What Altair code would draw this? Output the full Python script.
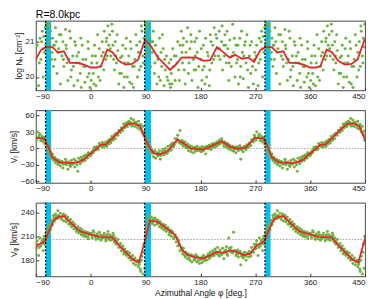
import altair as alt
import pandas as pd

# Azimuth of the plotted sources (deg), shared by the three panels (0..360)
phi = [0.8, 2.5, 4.1, 6.3, 8.7,
       10.2, 12.6, 14.0, 16.8, 18.9,
       20.5, 22.3, 24.8, 26.1, 28.4, 29.6,
       31.2, 33.0, 34.7, 36.5, 38.8,
       40.4, 42.1, 44.6, 46.2, 48.9,
       50.3, 52.7, 54.2, 56.0, 58.5,
       60.1, 62.4, 64.0, 66.3, 68.7,
       70.2, 72.5, 74.1, 76.8, 78.3,
       80.6, 82.2, 84.0, 85.7, 87.3, 88.6, 89.5,
       90.4, 91.3, 92.5, 93.8, 95.1, 96.6, 98.2, 99.5,
       101.0, 102.8, 104.5, 106.3, 108.7,
       110.4, 112.9, 114.2, 116.6, 118.8,
       120.3, 122.5, 124.1, 126.7, 128.4,
       130.9, 132.2, 134.6, 136.0, 138.5,
       140.1, 142.8, 144.3, 146.5, 148.7,
       150.6, 152.1, 154.8, 156.3, 158.9,
       160.2, 162.7, 164.4, 166.1, 168.6,
       170.8, 172.3, 174.6, 176.0, 178.5,
       180.7, 182.4, 184.9, 186.2, 188.6,
       190.3, 192.8, 194.5, 196.1, 198.7,
       200.4, 202.6, 204.0, 206.8, 208.3,
       210.9, 212.1, 214.7, 216.3, 218.5,
       220.2, 222.6, 224.8, 226.4, 228.1,
       230.5, 232.9, 234.3, 236.7, 238.2,
       240.8, 242.3, 244.6, 246.1, 248.9,
       250.2, 252.5, 254.8, 256.4, 258.7,
       260.3, 262.6, 264.1, 266.9, 268.4,
       270.7, 272.2, 274.5, 276.8, 278.3,
       280.6, 282.1, 284.0, 285.3, 286.7, 288.2, 289.5,
       290.8, 292.4, 294.0, 295.6, 297.3, 298.9,
       300.5, 302.2, 304.7, 306.1, 308.6,
       310.3, 312.8, 314.4, 316.0, 318.7,
       320.1, 322.6, 324.2, 326.9, 328.3,
       330.7, 332.5, 334.0, 336.4, 338.8,
       340.2, 342.9, 344.5, 346.1, 348.6,
       350.4, 352.0, 354.7, 356.2, 358.8,
       # second batch
       1.6, 5.2, 7.8, 11.4, 15.3, 17.9, 21.4, 25.5, 27.2,
       32.1, 35.6, 37.7, 41.3, 43.5, 47.6, 51.5, 55.1, 57.3,
       61.2, 65.2, 67.5, 71.3, 75.4, 79.6, 81.4, 83.1, 86.5,
       90.9, 92.0, 94.4, 97.3, 101.9, 105.4, 109.5,
       111.7, 115.3, 117.7, 121.4, 125.3, 129.6, 131.5, 133.4, 137.2,
       141.5, 145.4, 149.8, 151.3, 153.5, 157.6, 161.4, 165.2, 169.7,
       171.5, 173.4, 177.2, 181.5, 183.6, 187.4, 191.5, 195.3, 197.4,
       201.5, 205.3, 209.6, 211.4, 215.5, 219.4, 221.3, 223.7, 227.2,
       231.6, 235.5, 239.4, 241.5, 245.3, 247.5, 251.3, 253.6, 257.5,
       261.4, 265.5, 269.3, 271.4, 275.6, 279.5, 281.3, 283.0, 287.4,
       291.6, 293.2, 296.4, 299.6, 301.4, 303.5, 307.3,
       311.5, 315.2, 319.4, 321.3, 325.5, 327.6, 331.6, 335.2, 337.5,
       341.5, 343.7, 347.4, 351.2, 355.5, 357.4]

log_nh = [19.9, 20.6, 20.1, 20.9, 19.75,
          20.4, 20.0, 20.8, 20.3, 21.0,
          20.7, 21.3, 20.5, 21.1, 21.45, 20.9,
          21.2, 20.6, 21.5, 20.9, 20.2,
          21.0, 20.4, 20.75, 19.8, 20.55,
          20.1, 20.9, 19.7, 20.4, 21.1,
          20.0, 20.6, 19.85, 20.8, 20.3,
          19.7, 20.5, 21.2, 20.0, 20.7,
          21.0, 20.3, 21.3, 20.6, 21.1, 20.85, 21.5,
          21.3, 21.55, 20.9, 21.4, 20.6, 21.2, 20.3, 21.0,
          20.7, 21.3, 20.1, 20.9, 19.8,
          20.5, 21.1, 19.9, 20.3, 20.8,
          19.75, 20.2, 20.6, 19.9, 20.4,
          19.7, 20.1, 20.8, 20.3, 19.9,
          20.6, 21.0, 20.2, 20.9, 21.3,
          20.4, 21.1, 19.8, 20.7, 21.4,
          20.1, 20.8, 21.2, 19.9, 20.5,
          21.0, 20.2, 20.7, 19.7, 21.3,
          20.5, 19.9, 20.9, 20.3, 21.1,
          20.0, 20.6, 19.75, 21.2, 20.4,
          20.9, 21.4, 20.6, 21.1, 20.8,
          21.3, 20.5, 21.0, 20.2, 20.9,
          21.2, 20.4, 20.8, 19.9, 21.05,
          20.3, 21.5, 20.7, 20.0, 20.9,
          20.5, 19.8, 21.1, 20.3, 20.7,
          19.95, 20.9, 20.4, 21.2, 19.7,
          20.6, 20.1, 21.0, 19.8, 20.5,
          20.2, 20.9, 19.75, 21.1, 20.5,
          21.3, 20.0, 20.7, 21.4, 20.9, 21.55, 21.2,
          21.5, 20.8, 21.3, 20.5, 21.1, 20.3,
          20.9, 21.4, 20.1, 20.7, 21.2,
          19.8, 20.6, 21.0, 20.3, 21.35,
          20.8, 19.9, 20.5, 21.1, 20.2,
          20.6, 19.75, 21.0, 20.4, 19.9,
          20.7, 20.1, 19.7, 20.9, 20.3,
          19.85, 20.5, 20.0, 20.8, 19.7,
          # second batch
          20.4, 19.8, 20.6, 21.2, 19.9, 20.6, 20.2, 21.0, 20.6,
          20.8, 21.3, 20.5, 20.6, 21.2, 20.1, 20.6, 20.0, 20.8,
          20.4, 21.0, 19.8, 20.3, 20.9, 20.2, 20.7, 21.45, 20.4,
          21.1, 20.7, 21.5, 20.8, 21.0, 20.4, 20.6,
          20.0, 20.7, 21.2, 20.5, 20.0, 19.8, 20.5, 19.8, 20.6,
          20.4, 19.9, 20.7, 20.9, 20.2, 21.0, 20.4, 21.0, 20.2,
          20.6, 21.1, 20.3, 20.8, 20.2, 19.8, 20.7, 20.2, 21.0,
          20.5, 21.2, 20.6, 20.8, 21.45, 20.6, 20.9, 21.3, 20.4,
          20.6, 21.1, 20.4, 20.9, 20.0, 21.3, 20.6, 21.0, 20.2,
          20.9, 20.3, 20.7, 20.6, 20.4, 21.0, 20.8, 21.15, 21.5,
          21.0, 21.45, 20.7, 20.9, 20.5, 21.0, 20.8,
          21.2, 20.5, 20.9, 20.4, 21.3, 20.0, 20.3, 20.9, 20.6,
          20.4, 21.1, 20.5, 20.3, 21.0, 20.1]

v_r = [-12, -5, -8, 2, -3,
       3, -2, 9, 4, 11,
       2, 9, 12, 4, 14, 8,
       17, 10, 22, 15, 25,
       18, 28, 24, 33, 29,
       38, 33, 45, 38, 47,
       40, 50, 44, 55, 42,
       52, 40, 48, 38, 50,
       35, 44, 30, 40, 24, 32, 15,
       22, 8, 14, 2, 9, -6, 3, -8,
       -4, -15, -6, -18, -8,
       -14, -4, -20, -9, -2,
       -12, 0, -9, 4, -5,
       6, -3, 10, 3, 18,
       12, 24, 15, 33, 8,
       14, 4, 12, 2, 8,
       -4, 5, -6, 3, -8,
       2, -5, 4, -3, 1,
       -6, 3, -4, 2, -10,
       4, -1, 6, 0, 8,
       2, 9, 4, 12, 6,
       15, 8, 18, 10, 4,
       12, 2, 9, -1, 6,
       -3, 4, -5, 2, -8,
       3, -4, 5, -20, 1,
       -6, 4, -2, 7, 2,
       10, 5, 16, 12, 24,
       15, 30, 20, 26, 14,
       22, 12, 20, 8, 14, 0, 6,
       -4, -12, -6, -18, -10, -22,
       -16, -26, -20, -30, -22,
       -32, -24, -36, -28, -20,
       -30, -38, -25, -33, -22,
       -29, -20, -34, -24, -42,
       -18, -28, -16, -24, -14,
       -22, -12, -18, -8, -14,
       # second batch
       -8, -2, 1, 0, 6, 5, 6, 4, 11,
       13, 20, 17, 24, 27, 31, 36, 42, 44,
       46, 48, 41, 47, 44, 43, 42, 36, 27,
       18, 12, 5, -3, -9, -4, -12,
       -9, -13, -6, -5, -9, -2, 2, 9, 7,
       18, 10, 14, 9, 6, 1, 2, -2, 1,
       -3, 0, -4, -1, -5, 0, 1, 3, -2,
       6, 3, 9, 11, 14, 7, 9, 5, 1,
       2, -2, 1, -2, 1, -3, 2, -1, 5,
       8, 13, 20, 18, 23, 17, 19, 16, 10,
       2, -8, -14, -20, -21, -23, -27,
       -26, -29, -24, -26, -31, -28, -27, -23, -30,
       -25, -21, -19, -16, -11, -9]

v_phi = [214, 208, 217, 211, 206,
         213, 207, 215, 205, 211,
         208, 214, 204, 211, 216, 206,
         212, 205, 210, 214, 203,
         208, 200, 206, 196, 201,
         192, 198, 188, 194, 186,
         191, 183, 189, 180, 186,
         176, 183, 174, 180, 172,
         178, 166, 185, 163, 200, 170, 210,
         212, 222, 216, 232, 226, 236, 229, 234,
         226, 232, 224, 231, 225,
         230, 222, 228, 220, 225,
         218, 224, 216, 221, 212,
         218, 210, 215, 207, 212,
         203, 198, 205, 192, 196,
         188, 195, 184, 190, 182,
         188, 180, 186, 178, 185,
         180, 187, 178, 184, 176,
         183, 177, 186, 179, 184,
         180, 188, 182, 190, 185,
         192, 186, 194, 188, 196,
         185, 193, 187, 195, 182,
         190, 197, 186, 208, 191,
         196, 189, 215, 192, 186,
         193, 184, 190, 174, 188,
         183, 190, 180, 188, 184,
         191, 185, 196, 190, 200,
         194, 204, 186, 208, 198,
         205, 192, 210, 200, 214, 206, 220,
         214, 224, 218, 230, 224, 236,
         229, 238, 232, 242, 233,
         239, 231, 237, 229, 236,
         228, 234, 225, 231, 222,
         228, 219, 225, 216, 222,
         214, 220, 212, 218, 210,
         216, 209, 215, 207, 213,
         # second batch
         211, 215, 209, 210, 212, 207, 211, 207, 212,
         209, 206, 211, 204, 202, 198, 195, 190, 189,
         187, 184, 182, 181, 178, 175, 169, 180, 190,
         219, 214, 228, 231, 228, 233, 227,
         227, 224, 223, 220, 219, 215, 214, 216, 209,
         208, 200, 194, 191, 187, 186, 183, 187, 181,
         182, 185, 180, 181, 184, 182, 185, 184, 187,
         189, 191, 187, 190, 188, 191, 193, 188, 195,
         190, 192, 189, 188, 191, 185, 187, 185, 189,
         188, 192, 197, 200, 196, 202, 201, 207, 212,
         216, 221, 227, 233, 232, 235, 236,
         234, 238, 232, 230, 226, 225, 223, 220, 218,
         217, 215, 213, 212, 210, 214]

# Running mean (red curves), 0..360
nh_line_phi = [0, 10, 17, 27, 36, 46, 57, 68, 78, 89, 97, 110, 118, 130, 139, 149, 160, 174,
               185, 196, 207, 218, 228, 237, 248, 259, 268, 278, 287, 297, 306, 316, 326, 338, 349, 358]
nh_line = [20.27, 20.27, 20.31, 20.78, 20.70, 20.46, 20.35, 20.37, 20.50, 21.05, 20.93, 20.56,
           20.42, 20.20, 20.34, 20.55, 20.56, 20.55, 20.46, 20.48, 20.85, 20.70, 20.55, 20.63,
           20.52, 20.55, 20.43, 20.76, 20.85, 20.85, 20.70, 20.73, 20.40, 20.40, 20.35, 20.28]

vr_line_phi = [0, 17, 25, 38, 52, 62, 73, 81, 89, 97, 104, 113, 123, 131, 142, 152, 164, 185,
               215, 229, 240, 254, 269, 284, 290, 297, 308, 326, 337, 350, 358]
vr_line = [-10, 7, 7, 21, 37, 45.5, 45.5, 40, 19, 1, -9, -11, -7, 1, 16, 10, 0, -2,
           13, 3, -0.5, 1, 19.5, 18.5, 4, -16, -25, -27, -26, -20, -10]

vp_line_phi = [0, 14, 25, 36, 46, 60, 70, 79, 86, 90, 97, 110, 123, 139, 150, 160, 170, 185,
               207, 218, 229, 240, 251, 262, 273, 285, 292, 300, 308, 317, 329, 342, 358]
vp_line = [212.5, 209.2, 209, 208.3, 199, 188.5, 180.5, 177.5, 196, 207, 230, 228, 221, 211,
           193, 186.4, 184, 182.3, 190.5, 189.3, 192.6, 190.5, 186.4, 188.5, 198.8, 204, 217.5,
           230.7, 234.8, 234.8, 225.7, 216.6, 212.5]

# Spiral-arm markers
arm_phi = [-74, 88.5, 286]
band_start = [-73.3, 89.2, 286.7]
band_end = [-65, 99, 295]

x_ticks = [-90, 0, 90, 180, 270, 360, 450]

GREEN = "#6cb23e"
RED = "#e6262b"
CYAN = "#00bff2"
FONT = "Liberation Sans"


def periodic(xs, ys, pad=0):
    rows = []
    for x, y in zip(xs, ys):
        for s in (-360, 0, 360):
            xx = x + s
            if -90 - pad <= xx <= 450 + pad:
                rows.append({"x": xx, "y": y})
    return pd.DataFrame(rows).sort_values("x").reset_index(drop=True)


bands_df = pd.DataFrame({"x": band_start, "x2": band_end})
arms_df = pd.DataFrame({"x": arm_phi})


def panel(ys, lx, ly, dom, yticks, ytitle, h, hline=None, xtitle=None):
    xs = alt.Scale(domain=[-90, 450], nice=False, zero=False)
    X = alt.X("x:Q", scale=xs, title=xtitle,
              axis=alt.Axis(values=x_ticks, title=xtitle))
    Y = alt.Y("y:Q", scale=alt.Scale(domain=dom, nice=False, zero=False), title=ytitle,
              axis=alt.Axis(values=yticks, title=ytitle))
    layers = [alt.Chart(bands_df).mark_rect(color=CYAN).encode(x=X, x2="x2:Q")]
    if hline is not None:
        layers.append(alt.Chart(pd.DataFrame({"y": [hline]})).mark_rule(
            color="#999999", strokeDash=[1.5, 1.5], strokeWidth=0.9).encode(y=Y))
    layers.append(alt.Chart(periodic(phi, ys)).mark_circle(
        color=GREEN, size=9, opacity=1, clip=True).encode(x=X, y=Y))
    layers.append(alt.Chart(periodic(lx, ly, pad=40)).mark_line(
        color=RED, strokeWidth=1.8, clip=True).encode(x=X, y=Y, order="x:Q"))
    layers.append(alt.Chart(arms_df).mark_rule(
        color="black", strokeDash=[2, 1.6], strokeWidth=1.3).encode(x=X))
    return alt.layer(*layers).properties(width=331, height=h)


p1 = panel(log_nh, nh_line_phi, nh_line, [19.62, 21.6], [20, 21],
           "log N\u2095 [cm\u207b\u00b2]", 70).properties(
    title=alt.TitleParams("R=8.0kpc", anchor="start", frame="group", fontSize=10.5,
                          font=FONT, fontWeight="normal", offset=0, color="black"))
p2 = panel(v_r, vr_line_phi, vr_line, [-63, 70], [-60, -30, 0, 30, 60],
           "V\u1d63 [km/s]", 73, hline=0)
p3 = panel(v_phi, vp_line_phi, vp_line, [160, 252], [180, 210, 240],
           "V\u1d69 [km/s]", 74, hline=206, xtitle="Azimuthal Angle \u03c6 [deg.]")

chart = alt.vconcat(p1, p2, p3, spacing=7).properties(padding=0).configure_view(
    stroke="#333333", strokeWidth=0.9
).configure_axis(
    labelFont=FONT, labelFontSize=8, labelColor="#222222",
    titleFont=FONT, titleFontSize=8.5, titleFontWeight="normal", titleColor="#111111",
    tickColor="#333333", tickSize=3, offset=-3, labelPadding=2, titlePadding=2,
    domain=False, grid=False
)

chart.save("out.html", embed_options={"renderer": "svg", "actions": False})
